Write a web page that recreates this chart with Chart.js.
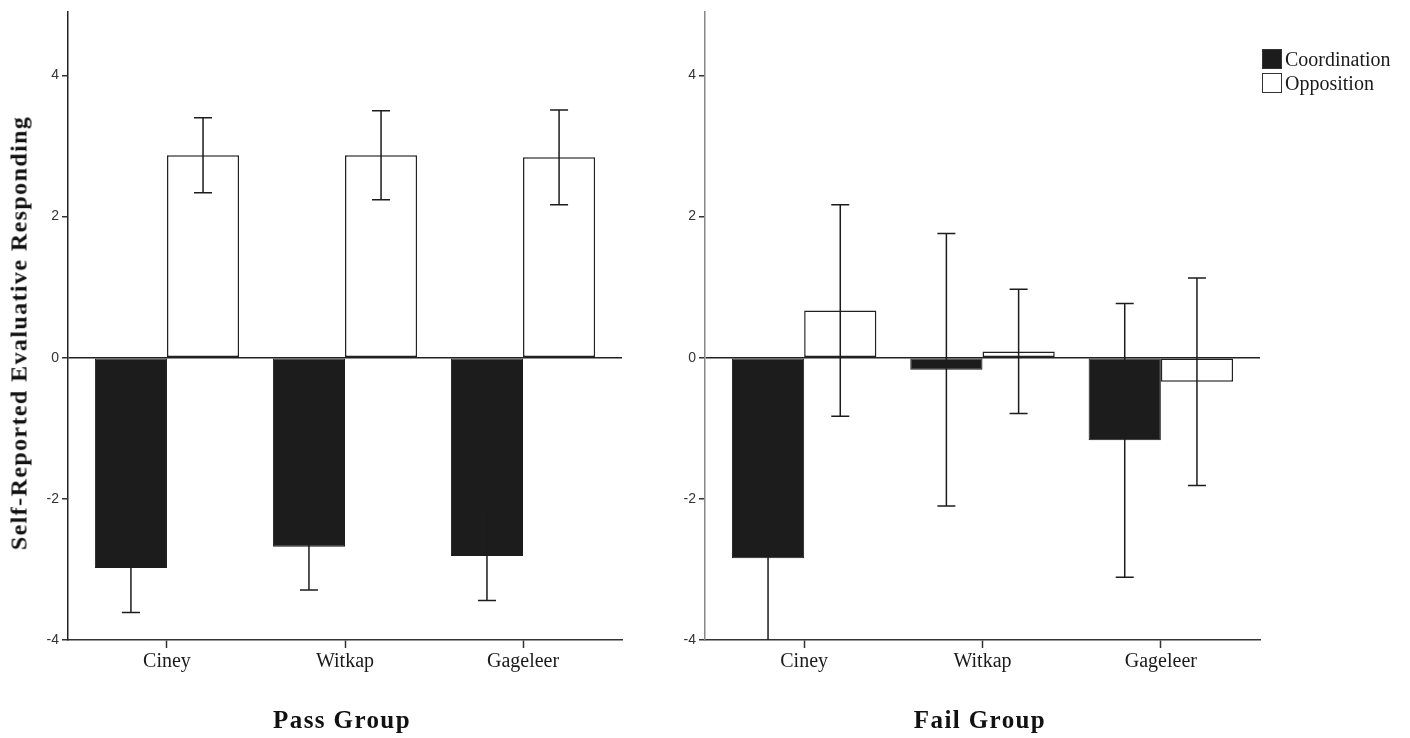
<!DOCTYPE html>
<html>
<head>
<meta charset="utf-8">
<script src="https://cdn.jsdelivr.net/npm/chart.js@4.4.1/dist/chart.umd.min.js"></script>
<style>
    body { margin: 0; background: #fff; }
    #wrap { position: relative; width: 1410px; height: 738px; overflow: hidden; }
    canvas { position: absolute; top: 0; }
    .title { position: absolute; font-family: "Liberation Serif", serif; font-weight: bold; color: #111; white-space: nowrap; }
    .legend { position: absolute; left: 1262px; font-family: "Liberation Serif", serif; font-size: 20px; color: #1a1a1a; }
    .legend div { height: 24px; line-height: 22px; display: flex; align-items: center; }
    .legend span.box { display: inline-block; width: 18px; height: 18px; border: 1.5px solid #333; margin-right: 3px; }
</style>
</head>
<body>
<div id="wrap">
    <canvas id="pass-chart" width="640" height="738" style="left:0"></canvas>
    <canvas id="fail-chart" width="650" height="738" style="left:640px"></canvas>

    <div class="title" id="y-title" style="font-size:24px; letter-spacing:1.4px; left:19px; top:333px; transform:translate(-50%,-50%) rotate(-90deg);">Self-Reported Evaluative Responding</div>
    <div class="title" style="font-size:25px; letter-spacing:1.4px; left:342px; top:720px; transform:translate(-50%,-50%);">Pass Group</div>
    <div class="title" style="font-size:25px; letter-spacing:1.4px; left:980px; top:720px; transform:translate(-50%,-50%);">Fail Group</div>

    <div class="legend" style="top:47px;">
        <div><span class="box" style="background:#1c1c1c"></span>Coordination</div>
        <div><span class="box" style="background:#fff"></span>Opposition</div>
    </div>
</div>

<script>
// Data
const categories = ['Ciney', 'Witkap', 'Gageleer'];
const yTicks = [-4, -2, 0, 2, 4];

const passCoordination = [-2.98, -2.68, -2.81];
const passCoordinationErr = [0.63, 0.61, 0.63];
const passOpposition = [2.87, 2.87, 2.84];
const passOppositionErr = [0.53, 0.63, 0.67];

const failCoordination = [-2.84, -0.17, -1.17];
const failCoordinationErr = [1.9, 1.93, 1.94];
const failOpposition = [0.67, 0.09, -0.34];
const failOppositionErr = [1.5, 0.88, 1.47];

const barBlack = '#1c1c1c';

// Draw error bars on top of the bars
const errorBarPlugin = {
    id: 'errorBars',
    afterDatasetsDraw(chart) {
        const ctx = chart.ctx;
        const area = chart.chartArea;
        const yScale = chart.scales.y;
        ctx.save();
        ctx.beginPath();
        ctx.rect(area.left, area.top, area.right - area.left, area.bottom - area.top);
        ctx.clip();
        ctx.strokeStyle = barBlack;
        ctx.lineWidth = 1.5;
        chart.data.datasets.forEach((ds, di) => {
            const meta = chart.getDatasetMeta(di);
            meta.data.forEach((bar, i) => {
                const v = ds.data[i].y;
                const e = ds.errors[i];
                const top = yScale.getPixelForValue(v + e);
                const bottom = yScale.getPixelForValue(v - e);
                const x = bar.x;
                ctx.beginPath();
                ctx.moveTo(x, top);
                ctx.lineTo(x, bottom);
                ctx.moveTo(x - 9, top);
                ctx.lineTo(x + 9, top);
                ctx.moveTo(x - 9, bottom);
                ctx.lineTo(x + 9, bottom);
                ctx.stroke();
            });
        });
        ctx.restore();
    }
};

function toPoints(values) {
    return values.map((v, i) => ({ x: i, y: v }));
}

function makeChart(canvasId, coord, coordErr, opp, oppErr, axisWidth, padRight, yAxisColor) {
    const ctx = document.getElementById(canvasId).getContext('2d');
    return new Chart(ctx, {
        type: 'bar',
        data: {
            datasets: [{
                label: 'Coordination',
                data: toPoints(coord),
                errors: coordErr,
                backgroundColor: barBlack,
                borderColor: barBlack,
                borderWidth: 1,
                borderSkipped: false
            }, {
                label: 'Opposition',
                data: toPoints(opp),
                errors: oppErr,
                backgroundColor: '#ffffff',
                borderColor: '#222',
                borderWidth: 1.5,
                borderSkipped: false
            }]
        },
        options: {
            responsive: false,
            animation: false,
            categoryPercentage: 0.81,
            barPercentage: 1.0,
            layout: { padding: { top: 12, right: padRight, left: 0, bottom: 0 } },
            scales: {
                x: {
                    type: 'linear',
                    offset: false,
                    min: -0.556,
                    max: 2.556,
                    afterBuildTicks: (scale) => {
                        scale.ticks = categories.map((c, i) => ({ value: i }));
                    },
                    afterFit: (scale) => { scale.height = 98; },
                    border: { display: true, color: '#333', width: 1.5 },
                    grid: { display: true, offset: false, drawOnChartArea: false, drawTicks: true, tickLength: 8, tickColor: '#333', tickWidth: 1.5 },
                    ticks: {
                        callback: (value) => categories[value],
                        color: '#1a1a1a',
                        font: { family: 'Liberation Serif', size: 20 },
                        padding: 2,
                        maxRotation: 0,
                        autoSkip: false
                    }
                },
                y: {
                    min: -4,
                    max: 4.9,
                    afterBuildTicks: (scale) => {
                        scale.ticks = yTicks.map(v => ({ value: v }));
                    },
                    afterFit: (scale) => { scale.width = axisWidth; },
                    border: { display: true, color: yAxisColor, width: 1.5 },
                    grid: {
                        drawOnChartArea: true,
                        color: (c) => (c.tick && c.tick.value === 0) ? '#222' : 'rgba(0,0,0,0)',
                        lineWidth: 1.5,
                        tickLength: 6,
                        tickColor: '#333',
                        tickWidth: 1.5
                    },
                    ticks: {
                        color: '#333',
                        font: { family: 'Liberation Sans', size: 14 },
                        padding: 3
                    }
                }
            },
            plugins: {
                legend: { display: false },
                tooltip: { enabled: false }
            }
        },
        plugins: [errorBarPlugin]
    });
}

document.addEventListener('DOMContentLoaded', function() {
    makeChart('pass-chart', passCoordination, passCoordinationErr, passOpposition, passOppositionErr, 68, 18, '#222');
    makeChart('fail-chart', failCoordination, failCoordinationErr, failOpposition, failOppositionErr, 65, 30, '#888');
});
</script>
</body>
</html>
